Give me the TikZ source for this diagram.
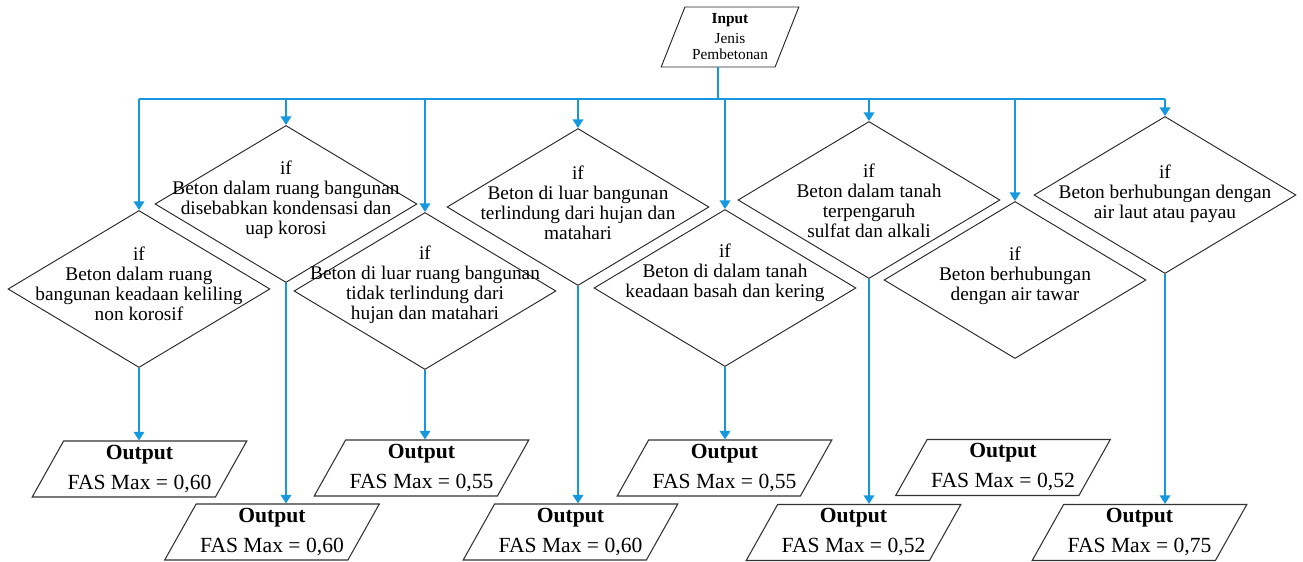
\documentclass[tikz,border=0pt]{standalone}
\usepackage{fontspec}
\setmainfont{Liberation Serif}
\usetikzlibrary{shapes.geometric,arrows.meta}
\definecolor{flowblue}{RGB}{22,152,222}
\tikzset{
  x=0.75pt, y=-0.75pt,
  decision/.style={shape=diamond, draw=black!85, line width=0.7pt,
    minimum width=196.5pt, minimum height=117.75pt, inner sep=0pt},
  dtext/.style={align=center, inner sep=0pt,
    font=\fontsize{14.5}{15}\selectfont},
  outbox/.style={shape=trapezium, trapezium left angle=58, trapezium right angle=122,
    trapezium stretches=true, draw=black!80, line width=0.8pt,
    minimum width=161.25pt, minimum height=42pt, inner sep=0pt,
    align=center, font=\fontsize{16.2}{22.5}\selectfont},
  inbox/.style={shape=trapezium, trapezium left angle=66.6, trapezium right angle=113.4,
    trapezium stretches=true, draw=black!85, line width=0.7pt,
    minimum width=103.5pt, minimum height=45pt, inner sep=0pt,
    align=center, font=\fontsize{11.5}{12}\selectfont},
  wire/.style={draw=flowblue, line width=1.1pt},
  arr/.style={wire, -{Triangle[width=8pt,length=6.5pt]}}
}
\begin{document}
\begin{tikzpicture}
\useasboundingbox (0,0) rectangle (1303,561);

% input
\node[inbox] (in) at (730,37) {\textbf{Input}\\[3pt]Jenis\\Pembetonan};
\coordinate (bus) at (718,99);

% decisions
\node[decision] (d1) at (139,289) {};
\node[decision] (d2) at (286,204) {};
\node[decision] (d3) at (425,291) {};
\node[decision] (d4) at (578,207) {};
\node[decision] (d5) at (725,288) {};
\node[decision] (d6) at (869,200) {};
\node[decision] (d7) at (1015,280) {};
\node[decision] (d8) at (1165,195) {};

\node[dtext] (t1) at (139,284) {if\\Beton dalam ruang\\bangunan keadaan keliling\\non korosif};
\node[dtext] (t2) at (286,199.5) {if\\Beton dalam ruang bangunan\\disebabkan kondensasi dan\\uap korosi};
\node[dtext] (t3) at (425,285) {if\\Beton di luar ruang bangunan\\tidak terlindung dari\\hujan dan matahari};
\node[dtext] (t4) at (578,202.5) {if\\Beton di luar bangunan\\terlindung dari hujan dan\\matahari};
\node[dtext] (t5) at (725,273) {if\\Beton di dalam tanah\\keadaan basah dan kering};
\node[dtext] (t6) at (869,201) {if\\Beton dalam tanah\\terpengaruh\\sulfat dan alkali};
\node[dtext] (t7) at (1015,276) {if\\Beton berhubungan\\dengan air tawar};
\node[dtext] (t8) at (1165,193.5) {if\\Beton berhubungan dengan\\air laut atau payau};

% outputs
\node[outbox] (o1) at (139.5,469) {\textbf{Output}\\FAS Max = 0,60};
\node[outbox] (o2) at (272,532) {\textbf{Output}\\FAS Max = 0,60};
\node[outbox] (o3) at (421.5,468) {\textbf{Output}\\FAS Max = 0,55};
\node[outbox] (o4) at (570.5,532) {\textbf{Output}\\FAS Max = 0,60};
\node[outbox] (o5) at (724.5,468) {\textbf{Output}\\FAS Max = 0,55};
\node[outbox] (o6) at (853.5,532.5) {\textbf{Output}\\FAS Max = 0,52};
\node[outbox] (o7) at (1003,467.5) {\textbf{Output}\\FAS Max = 0,52};
\node[outbox] (o8) at (1139.5,532.5) {\textbf{Output}\\FAS Max = 0,75};

% input to distribution line
\draw[wire] (in.south -| bus) -- (bus);
\draw[wire] (d1.north |- bus) -- (d8.north |- bus);
\foreach \d in {d1,d2,d3,d4,d5,d6,d7,d8}
  \draw[arr] (\d.north |- bus) -- (\d.north);

% decisions to outputs
\draw[arr] (d1.south) -- (d1.south |- o1.north);
\draw[arr] (d2.south) -- (d2.south |- o2.north);
\draw[arr] (d3.south) -- (d3.south |- o3.north);
\draw[arr] (d4.south) -- (d4.south |- o4.north);
\draw[arr] (d5.south) -- (d5.south |- o5.north);
\draw[arr] (d6.south) -- (d6.south |- o6.north);
\draw[arr] (d8.south) -- (d8.south |- o8.north);
\end{tikzpicture}
\end{document}
